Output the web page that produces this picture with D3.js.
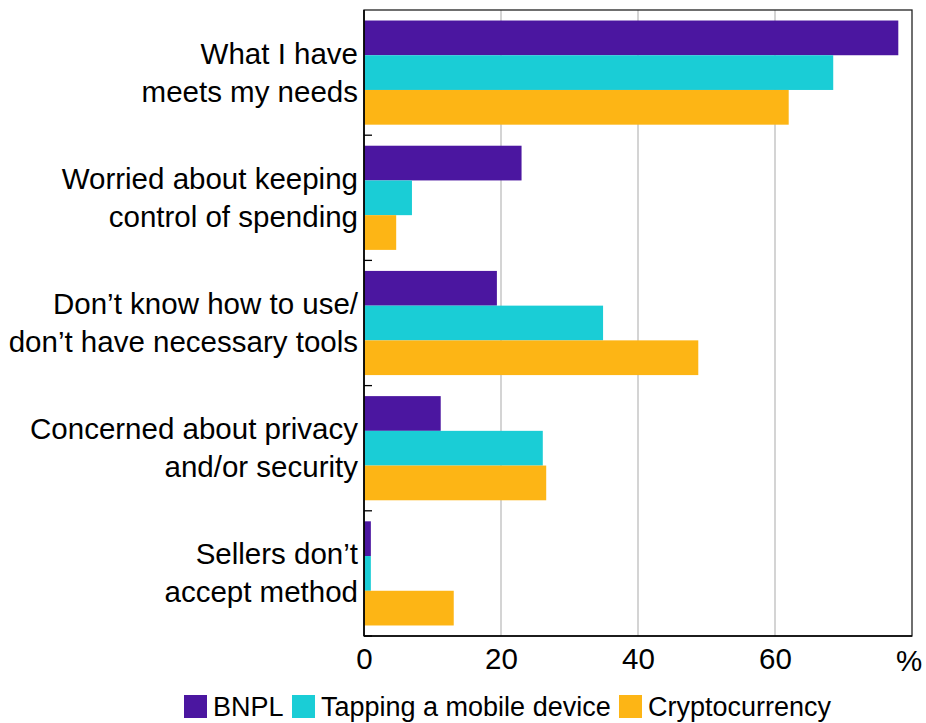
<!DOCTYPE html>
<html><head><meta charset="utf-8">
<script src="https://cdn.jsdelivr.net/npm/d3@7"></script>
<style>body{margin:0;background:#fff}svg{display:block}text{font-family:"Liberation Sans",Arial,sans-serif;fill:#000}</style>
</head><body><svg id="c" width="926" height="723"></svg>
<script>
const categories = [
  ["What I have","meets my needs"],
  ["Worried about keeping","control of spending"],
  ["Don\u2019t know how to use/","don\u2019t have necessary tools"],
  ["Concerned about privacy","and/or security"],
  ["Sellers don\u2019t","accept method"]
];
const seriesNames = ["BNPL","Tapping a mobile device","Cryptocurrency"];
const bnpl = [78, 23, 19.4, 11.2, 1.0];
const tapping = [68.5, 7, 34.9, 26.1, 1.0];
const crypto = [62, 4.7, 48.8, 26.6, 13.1];
const xTicks = [0, 20, 40, 60];
const colors = ["#4B16A0", "#1ACDD6", "#FDB515"];

const values = [bnpl, tapping, crypto];
const svg = d3.select("#c");
const L = 364, R = 912, T = 10, B = 636;
const FS = 29.5;
const x = d3.scaleLinear().domain([0, 80]).range([L, R]);
const y = d3.scaleBand().domain(d3.range(categories.length)).range([T, B]).paddingInner(0.168).paddingOuter(0.084);
const ySub = d3.scaleBand().domain(d3.range(3)).range([0, y.bandwidth()]);

// gridlines
svg.append("g").selectAll("line").data(xTicks.filter(d => d > 0)).join("line")
  .attr("x1", d => x(d)).attr("x2", d => x(d)).attr("y1", T).attr("y2", B)
  .attr("stroke", "#bdbdbd").attr("stroke-width", 1.3);

// bars
const g = svg.append("g");
categories.forEach((c, i) => {
  values.forEach((vals, s) => {
    g.append("rect")
      .attr("x", x(0)).attr("y", y(i) + ySub(s))
      .attr("width", x(vals[i]) - x(0)).attr("height", ySub.bandwidth())
      .attr("fill", colors[s]);
  });
});

// frame
svg.append("rect").attr("x", L).attr("y", T).attr("width", R - L).attr("height", B - T)
  .attr("fill", "none").attr("stroke", "#222").attr("stroke-width", 1.3);
svg.append("line").attr("x1", L).attr("x2", L).attr("y1", T).attr("y2", B).attr("stroke", "#000").attr("stroke-width", 1.6);
svg.append("line").attr("x1", L).attr("x2", R).attr("y1", B).attr("y2", B).attr("stroke", "#000").attr("stroke-width", 1.6);

// category boundary ticks
const step = (B - T) / categories.length;
svg.append("g").selectAll("line").data(d3.range(1, categories.length + 1)).join("line")
  .attr("x1", L).attr("x2", L + 8).attr("y1", d => T + d * step).attr("y2", d => T + d * step)
  .attr("stroke", "#000").attr("stroke-width", 1.3);

// x axis labels
const xAxis = d3.axisBottom(x).tickValues(xTicks).tickSize(0).tickPadding(12).tickFormat(d3.format("d"));
const xa = svg.append("g").attr("transform", `translate(0,${B})`).call(xAxis);
xa.select(".domain").remove();
xa.selectAll("text").attr("font-size", FS).attr("font-family", "Liberation Sans, Arial, sans-serif").attr("fill", "#000");
svg.append("text").attr("x", x(80) - 3).attr("y", B + 35).attr("text-anchor", "middle").attr("font-size", FS).text("%");

// category labels
categories.forEach((c, i) => {
  const cy = y(i) + y.bandwidth() / 2;
  svg.append("text").attr("x", L - 6).attr("y", cy - 19 + 10).attr("text-anchor", "end").attr("font-size", FS).text(c[0]);
  svg.append("text").attr("x", L - 6).attr("y", cy + 19 + 10).attr("text-anchor", "end").attr("font-size", FS).text(c[1]);
});

// legend
const legX = [184, 292, 619];
seriesNames.forEach((n, i) => {
  svg.append("rect").attr("x", legX[i]).attr("y", 695).attr("width", 23).attr("height", 23).attr("fill", colors[i]);
  svg.append("text").attr("x", legX[i] + 29).attr("y", 716).attr("font-size", 27).text(n);
});
</script></body></html>
